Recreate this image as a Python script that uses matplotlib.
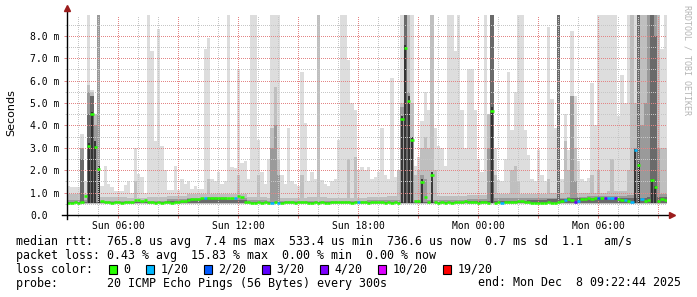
import numpy as np
import matplotlib
matplotlib.use("Agg")
import matplotlib.pyplot as plt
from matplotlib.patches import Rectangle

W, H = 697, 297

# one sample every 10 minutes, time in hours since Sun 00:00
t_start = 3.45
step = 1 / 6

# median rtt in ms
median_ms = [
    0.55, 0.55, 0.56, 0.55, 0.57, 0.86, 3.10, 4.50, 3.05, 2.06, 0.62, 0.58,
    0.56, 0.55, 0.56, 0.56, 0.55, 0.56, 0.57, 0.58, 0.65, 0.68, 0.64, 0.66,
    0.57, 0.56, 0.55, 0.56, 0.55, 0.56, 0.56, 0.55, 0.57, 0.60, 0.62, 0.63,
    0.66, 0.70, 0.72, 0.71, 0.74, 0.74, 0.78, 0.77, 0.78, 0.75, 0.76, 0.74,
    0.75, 0.76, 0.77, 0.85, 0.82, 0.58, 0.56, 0.55, 0.55, 0.56, 0.55, 0.56,
    0.55, 0.55, 0.56, 0.55, 0.55, 0.56, 0.57, 0.56, 0.55, 0.60, 0.57, 0.56,
    0.55, 0.55, 0.56, 0.55, 0.56, 0.55, 0.55, 0.57, 0.56, 0.58, 0.60, 0.56,
    0.57, 0.55, 0.56, 0.60, 0.57, 0.58, 0.55, 0.56, 0.58, 0.60, 0.57, 0.55,
    0.56, 0.55, 0.56, 0.55, 4.30, 7.44, 5.10, 3.35, 0.62, 0.64, 1.49, 0.82,
    0.60, 1.79, 0.58, 0.55, 0.56, 0.55, 0.56, 0.55, 0.56, 0.60, 0.58, 0.62,
    0.60, 0.57, 0.56, 0.55, 0.56, 0.56, 0.55, 4.64, 0.55, 0.56, 0.55, 0.58,
    0.60, 0.57, 0.58, 0.62, 0.64, 0.60, 0.56, 0.55, 0.55, 0.55, 0.55, 0.55,
    0.56, 0.55, 0.55, 0.60, 0.62, 0.67, 0.70, 0.66, 0.60, 0.62, 0.70, 0.72,
    0.74, 0.73, 0.74, 0.76, 0.74, 0.74, 0.76, 0.75, 0.78, 0.70, 0.66, 0.68,
    0.62, 0.60, 2.90, 2.23, 0.70, 0.62, 0.66, 1.56, 1.26, 0.63, 0.70, 0.66,
]

# (sample, pings lost out of 20); all other samples lost none
loss_marks = [(41, 1), (50, 1), (61, 1), (63, 1), (87, 1), (130, 1), (149, 1),
              (152, 3), (153, 1), (159, 2), (161, 3), (162, 1), (163, 1),
              (164, 3), (167, 1), (169, 1), (170, 1), (172, 1)]

# quiet-time smoke tops per hour (ms), light to dark
base_l1 = [1.25, 1.05, 1.05, 1.0, 1.05, 1.1, 1.15, 1.2, 1.15, 1.05, 1.0, 1.0, 1.05, 1.0, 1.0,
           1.05, 1.1, 1.05, 1.1, 1.1, 1.1, 1.15, 1.2, 1.15, 1.2, 1.3, 1.3, 1.3, 1.35, 1.4]
base_l2 = [0.92, 0.82, 0.8, 0.78, 0.8, 0.86, 0.92, 0.95, 0.92, 0.82, 0.78, 0.78, 0.8, 0.78, 0.78,
           0.82, 0.86, 0.82, 0.86, 0.86, 0.88, 0.92, 0.92, 0.92, 0.96, 1.0, 1.0, 1.05, 1.05, 1.1]
base_l3 = [0.66, 0.64, 0.63, 0.62, 0.64, 0.7, 0.78, 0.82, 0.76, 0.66, 0.63, 0.62, 0.63, 0.62, 0.63,
           0.65, 0.68, 0.66, 0.68, 0.68, 0.7, 0.74, 0.74, 0.75, 0.78, 0.82, 0.85, 0.86, 0.88, 0.92]
base_l4 = [0.57, 0.56, 0.56, 0.56, 0.57, 0.62, 0.7, 0.74, 0.66, 0.57, 0.56, 0.56, 0.56, 0.56, 0.56,
           0.57, 0.6, 0.58, 0.6, 0.6, 0.62, 0.64, 0.64, 0.66, 0.7, 0.74, 0.76, 0.76, 0.78, 0.8]

# smoke spikes (sample, top in ms); 10 = off the scale
smoke_l1 = [(0, 1.3), (1, 1.25), (2, 1.2), (4, 3.6), (5, 1.5), (6, 10), (7, 5.6), (8, 4.2),
            (9, 10), (10, 1.3), (11, 2.2), (12, 1.4), (13, 1.25), (17, 1.35), (18, 1.5),
            (20, 3.0), (21, 1.85), (22, 1.7), (24, 10), (25, 7.3), (26, 3.3), (27, 8.3),
            (28, 3.1), (29, 2.0), (32, 2.2), (34, 1.6), (35, 1.4), (36, 1.5), (38, 1.3),
            (41, 7.4), (42, 7.9), (43, 1.6), (44, 1.5),
            (45, 1.9), (46, 1.4), (47, 1.5), (48, 10), (49, 2.15), (50, 2.1), (51, 6.5),
            (52, 2.3), (53, 2.4), (54, 1.6), (55, 10), (56, 10), (57, 3.35), (58, 1.9),
            (59, 1.4), (60, 2.5), (61, 10), (62, 10), (63, 10), (64, 1.8), (65, 1.4),
            (66, 3.9), (67, 1.5), (68, 1.4), (69, 1.3), (70, 6.4), (71, 4.1), (72, 1.5),
            (73, 1.9), (74, 1.6), (75, 10), (76, 1.56), (77, 1.4), (78, 1.3), (79, 1.5),
            (80, 1.6), (81, 3.35), (82, 10), (83, 10), (84, 6.9), (85, 5.0), (86, 4.7),
            (87, 2.0), (88, 2.15), (89, 2.0),
            (90, 2.15), (91, 1.6), (92, 1.7), (93, 1.9), (94, 3.9), (95, 1.8), (96, 1.6),
            (97, 6.1), (98, 1.7), (99, 1.5), (100, 10), (101, 10), (102, 10), (103, 10),
            (104, 2.2), (105, 2.6), (106, 4.2), (107, 5.5), (108, 4.7), (109, 4.0),
            (110, 3.9), (111, 3.1), (112, 3.0), (113, 2.2), (114, 10), (115, 10),
            (116, 7.3), (117, 10), (118, 4.7), (119, 3.0), (120, 6.5), (121, 6.5),
            (122, 4.7), (123, 2.5), (124, 1.9), (125, 10), (126, 4.5), (127, 10),
            (128, 3.0), (129, 1.56), (130, 1.5), (131, 2.5), (132, 6.4), (133, 3.8),
            (134, 5.5),
            (135, 10), (136, 10), (137, 3.8), (138, 2.7), (139, 1.6), (140, 1.5),
            (141, 2.9), (142, 1.8), (143, 1.5), (144, 8.4), (145, 5.2), (146, 3.9),
            (147, 10), (148, 1.6), (149, 4.5), (150, 2.9), (151, 8.2), (152, 5.3),
            (153, 2.4), (154, 1.6), (155, 1.5), (156, 1.64), (157, 5.9), (158, 4.0),
            (159, 10), (160, 10), (161, 10), (162, 10), (163, 10), (164, 10), (165, 4.4),
            (166, 6.25), (167, 5.0), (168, 10), (169, 10), (170, 10), (171, 10),
            (172, 10), (173, 10), (174, 10), (175, 10), (176, 10), (177, 10), (178, 7.4),
            (179, 10)]
smoke_l2 = [(4, 3.0), (6, 5.8), (7, 5.5), (8, 4.5), (9, 10), (20, 1.5), (42, 1.6), (51, 1.8),
            (57, 1.8), (61, 3.9), (62, 5.7), (63, 2.5), (70, 1.8), (75, 10), (84, 2.5),
            (86, 2.6), (99, 2.0), (100, 5.0), (101, 10), (102, 10), (103, 5.0), (104, 1.8),
            (105, 2.0), (106, 3.0), (107, 3.5), (108, 3.0), (109, 10), (110, 2.0),
            (126, 4.5), (127, 10), (128, 1.8), (133, 2.0), (134, 2.2), (135, 1.5),
            (144, 1.6), (147, 10), (149, 3.3), (150, 2.0), (151, 5.3), (152, 3.0),
            (157, 1.8), (159, 2.0), (163, 2.5), (168, 2.0), (169, 10), (170, 5.0),
            (171, 10), (172, 10), (173, 10), (174, 10), (175, 10), (176, 10), (177, 10),
            (178, 3.0), (179, 3.0)]
smoke_l3 = [(4, 3.0), (6, 5.5), (7, 5.2), (8, 4.0), (9, 10), (61, 3.0), (62, 4.0), (63, 1.8),
            (100, 4.8), (101, 10), (102, 5.5), (103, 3.5), (106, 1.8), (107, 1.6),
            (126, 3.0), (127, 10), (147, 10), (151, 5.3), (152, 1.5),
            (170, 3.0), (171, 10), (172, 4.0), (173, 5.0), (174, 10), (175, 10),
            (176, 10), (177, 3.0)]
smoke_l4 = [(4, 2.5), (6, 4.5), (7, 5.3), (101, 10), (102, 5.0),
            (127, 10), (147, 10), (171, 10), (175, 10), (176, 8.0)]
# innermost smoke, drawn as a thin core (sample, top in ms)
smoke_core = [(6, 3.2), (7, 4.6), (8, 3.3), (9, 2.2), (100, 4.4), (101, 7.6), (102, 5.3),
              (103, 3.5), (106, 1.6), (109, 1.9), (127, 4.8), (170, 2.95),
              (171, 2.3), (175, 1.6), (176, 1.3)]

x_ticks = [6, 9, 12, 15, 18, 21, 24, 27, 30, 33]
x_labels = ["Sun 06:00", "", "Sun 12:00", "", "Sun 18:00", "", "Mon 00:00", "", "Mon 06:00", ""]
y_ticks = [0, 1, 2, 3, 4, 5, 6, 7, 8]
y_labels = ["0.0", "1.0 m", "2.0 m", "3.0 m", "4.0 m", "5.0 m", "6.0 m", "7.0 m", "8.0 m"]

loss_steps = [0, 1, 2, 3, 4, 10, 19]
loss_names = ["0", "1/20", "2/20", "3/20", "4/20", "10/20", "19/20"]
loss_colors = ["#26ff00", "#00b8ff", "#0059ff", "#5e00ff", "#7e00ff", "#dd00ff", "#ff0000"]

legend_lines = [
    "median rtt:  765.8 us avg  7.4 ms max  533.4 us min  736.6 us now  0.7 ms sd  1.1   am/s",
    "packet loss: 0.43 % avg  15.83 % max  0.00 % min  0.00 % now",
    "loss color:",
    "probe:       20 ICMP Echo Pings (56 Bytes) every 300s",
]
end_text = "end: Mon Dec  8 09:22:44 2025"

MONO = "DejaVu Sans Mono"
MGRID = "#e38585"
GRID = "#c6c6c6"

n = len(median_ms)
t = t_start + step * np.arange(n)
edges = np.append(t, t[-1] + step)


def smoke_top(base, spikes):
    top = np.repeat(base, 6).astype(float)
    for i, v in spikes:
        top[i] = max(top[i], v)
    return top


fig = plt.figure(figsize=(W / 100, H / 100), dpi=100)
fig.patch.set_facecolor("white")
ax = fig.add_axes([67 / W, 82 / H, 600 / W, 200 / H])

layers = [
    (base_l1, smoke_l1, 0.48, "#dddddd"),
    (base_l2, smoke_l2, 0.50, "#bfbfbf"),
    (base_l3, smoke_l3, 0.52, "#9a9a9a"),
    (base_l4, smoke_l4, 0.54, "#6a6a6a"),
]
for base, spikes, floor, col in layers:
    top = smoke_top(base, spikes)
    ax.fill_between(edges, floor, np.append(top, top[-1]), step="post",
                    color=col, linewidth=0, zorder=1)

core_idx = [i for i, v in smoke_core]
core_top = [v for i, v in smoke_core]
ax.vlines(t[core_idx] + step / 2, 0.55, core_top, color="#2e2e2e",
          linewidth=1.3, zorder=1.5)

lost = np.zeros(n, dtype=int)
for i, k in loss_marks:
    lost[i] = k
seg_colors = [loss_colors[loss_steps.index(k)] for k in lost]
ax.hlines(median_ms, t, t + step, colors=seg_colors, linewidth=1.8, zorder=3)

ax.set_xlim(t_start, t_start + 30)
ax.set_ylim(0, 200 / 22.4)

ax.set_xticks(x_ticks)
ax.set_xticklabels(x_labels, family=MONO, fontsize=7)
ax.set_xticks(np.arange(4, 34), minor=True)
ax.set_yticks(y_ticks)
ax.set_yticklabels(y_labels, family=MONO, fontsize=7)
ax.set_yticks(np.arange(0.5, 9, 1.0), minor=True)
for lab in ax.get_yticklabels():
    lab.set_horizontalalignment("left")

ax.tick_params(which="major", length=2, width=0.7, color=MGRID)
ax.tick_params(which="minor", length=1.5, width=0.7, color=GRID)
ax.tick_params(axis="y", which="major", pad=24.6)
ax.tick_params(axis="x", which="major", pad=2)

ax.set_axisbelow(False)
ax.grid(which="major", color=MGRID, linestyle=(0, (1, 1.6)), linewidth=0.72, antialiased=False)
ax.grid(which="minor", color=GRID, linestyle=(0, (1, 1.6)), linewidth=0.72, antialiased=False)
for s in ax.spines.values():
    s.set_visible(False)

# axis lines with arrow heads
ax.plot([-5 / 600, 603 / 600], [0, 0], color="black", lw=1.0,
        transform=ax.transAxes, clip_on=False, zorder=4)
ax.plot([0, 0], [-4 / 200, 1.02], color="black", lw=1.0,
        transform=ax.transAxes, clip_on=False, zorder=4)
ax.plot([605 / 600], [0], marker=">", markersize=5, color="#9b1c1c",
        transform=ax.transAxes, clip_on=False, zorder=4)
ax.plot([0], [1.035], marker="^", markersize=5, color="#9b1c1c",
        transform=ax.transAxes, clip_on=False, zorder=4)

fig.text(11 / W, 1 - 113 / H, "Seconds", rotation=90, ha="center", va="center",
         fontsize=8, family="DejaVu Sans")
fig.text(687.5 / W, 1 - 60 / H, "RRDTOOL / TOBI OETIKER", rotation=-90,
         ha="center", va="center", fontsize=6, family=MONO, color="#b4b4b4")

line_y = [242, 255.3, 269.3, 283]
for txt, y in zip(legend_lines, line_y):
    fig.text(16 / W, 1 - y / H, txt, ha="left", va="center", fontsize=8.4, family=MONO)
fig.text(478.3 / W, 1 - 283 / H, end_text, ha="left", va="center", fontsize=8.4, family=MONO)

bx = 108.7
for name, col in zip(loss_names, loss_colors):
    fig.patches.append(Rectangle((bx / W, 1 - 274 / H), 8 / W, 9 / H,
                                 transform=fig.transFigure, facecolor=col,
                                 edgecolor="black", linewidth=0.8))
    fig.text((bx + 14.6) / W, 1 - 269.3 / H, name, ha="left", va="center",
             fontsize=8.4, family=MONO)
    bx += 14.6 + 7.02 * len(name) + 15.4

fig.savefig("out.png", dpi=100)
